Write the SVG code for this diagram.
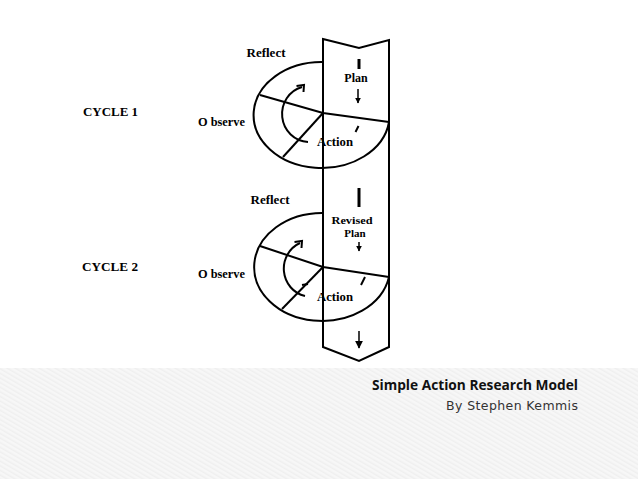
<svg xmlns="http://www.w3.org/2000/svg" width="638" height="479" viewBox="0 0 638 479">
<defs>
<pattern id="stripes" width="4" height="4" patternUnits="userSpaceOnUse" patternTransform="rotate(-60)">
<rect width="4" height="4" fill="#f7f7f7"/>
<rect width="1.5" height="4" fill="#efefef"/>
</pattern>
<marker id="ah" viewBox="0 0 10 10" refX="9" refY="5" markerWidth="6" markerHeight="6" markerUnits="userSpaceOnUse" orient="auto">
<path d="M0,0 L10,5 L0,10 Z" fill="#000"/>
</marker>
<marker id="ahb" viewBox="0 0 10 10" refX="9" refY="5" markerWidth="8" markerHeight="8" markerUnits="userSpaceOnUse" orient="auto">
<path d="M0,0 L10,5 L0,10 Z" fill="#000"/>
</marker>
</defs>
<style>
.ln{fill:none;stroke:#000;stroke-width:2}
.lbl{font-family:"Liberation Serif",serif;font-weight:bold;font-size:12px;fill:#000}
.sm{font-size:11px}
.cyc{font-family:"Liberation Serif",serif;font-weight:bold;font-size:12px;fill:#000}
.bar{stroke:#000;stroke-width:3}
.arr{stroke:#000;stroke-width:1.5;fill:none}
</style>
<rect x="0" y="0" width="638" height="479" fill="#fff"/>
<rect x="0" y="368" width="638" height="111" fill="url(#stripes)"/>

<g id="column">
<path class="ln" d="M323,39 L359,48 L389,40 L389,347 L359,361 L323,347 Z" fill="#fff"/>
</g>

<g id="cycle1">
<path class="ln" d="M323,62 A68,53 0 1 0 389,122"/>
<path class="ln" d="M260,95 L323,113 L389,122"/>
<path class="ln" d="M323,113 L283,157"/>
<path class="ln" d="M308,142 A27,28 0 0 1 302,87"/>
<path class="ln" d="M296.5,86 L304,85 L303.5,92"/>
<line class="bar" x1="359" y1="59" x2="359" y2="69"/>
<line class="arr" x1="358" y1="89" x2="358" y2="103" marker-end="url(#ah)"/>
<line class="ln" x1="358.5" y1="126" x2="355.5" y2="132" stroke-width="1.5"/>
<text class="lbl" x="266" y="57" text-anchor="middle" textLength="39" lengthAdjust="spacingAndGlyphs">Reflect</text>
<text class="lbl" x="356" y="82" text-anchor="middle">Plan</text>
<text class="lbl" x="335" y="146" text-anchor="middle" textLength="36" lengthAdjust="spacingAndGlyphs">Action</text>
<text class="lbl" x="198" y="126" textLength="47" lengthAdjust="spacingAndGlyphs">O bserve</text>
<text class="cyc" x="83" y="116" textLength="55" lengthAdjust="spacingAndGlyphs">CYCLE 1</text>
</g>

<g id="cycle2">
<path class="ln" d="M323,213 A68,54 0 1 0 389,277"/>
<path class="ln" d="M260,246 L323,267 L389,277"/>
<path class="ln" d="M323,267 L282,309"/>
<path class="ln" d="M305,296 A27,28 0 0 1 300,243"/>
<path class="ln" d="M294.5,242 L302,241 L301.5,248"/>
<line class="ln" x1="302" y1="285" x2="308" y2="284" stroke-width="1.5"/>
<line class="bar" x1="359" y1="188" x2="359" y2="207"/>
<line class="arr" x1="359" y1="242" x2="359" y2="251" marker-end="url(#ah)"/>
<line class="ln" x1="365" y1="277" x2="361" y2="285" stroke-width="1.5"/>
<text class="lbl" x="270" y="204" text-anchor="middle" textLength="39" lengthAdjust="spacingAndGlyphs">Reflect</text>
<text class="lbl sm" x="352" y="224" text-anchor="middle" textLength="41" lengthAdjust="spacingAndGlyphs">Revised</text>
<text class="lbl sm" x="355" y="237" text-anchor="middle">Plan</text>
<text class="lbl" x="335" y="301" text-anchor="middle" textLength="36" lengthAdjust="spacingAndGlyphs">Action</text>
<text class="lbl" x="198" y="278" textLength="47" lengthAdjust="spacingAndGlyphs">O bserve</text>
<text class="cyc" x="82" y="271" textLength="56" lengthAdjust="spacingAndGlyphs">CYCLE 2</text>
<line class="arr" x1="359" y1="331" x2="359" y2="348" stroke-width="2.5" marker-end="url(#ahb)"/>
</g>

<g id="caption">
<text x="578" y="390" text-anchor="end" font-family="'Open Sans','DejaVu Sans',sans-serif" font-weight="bold" font-size="14" fill="#111" textLength="206" lengthAdjust="spacingAndGlyphs">Simple Action Research Model</text>
<text x="578" y="410" text-anchor="end" font-family="'DejaVu Sans',sans-serif" font-size="12.5" fill="#333" textLength="132" lengthAdjust="spacing">By Stephen Kemmis</text>
</g>
</svg>
